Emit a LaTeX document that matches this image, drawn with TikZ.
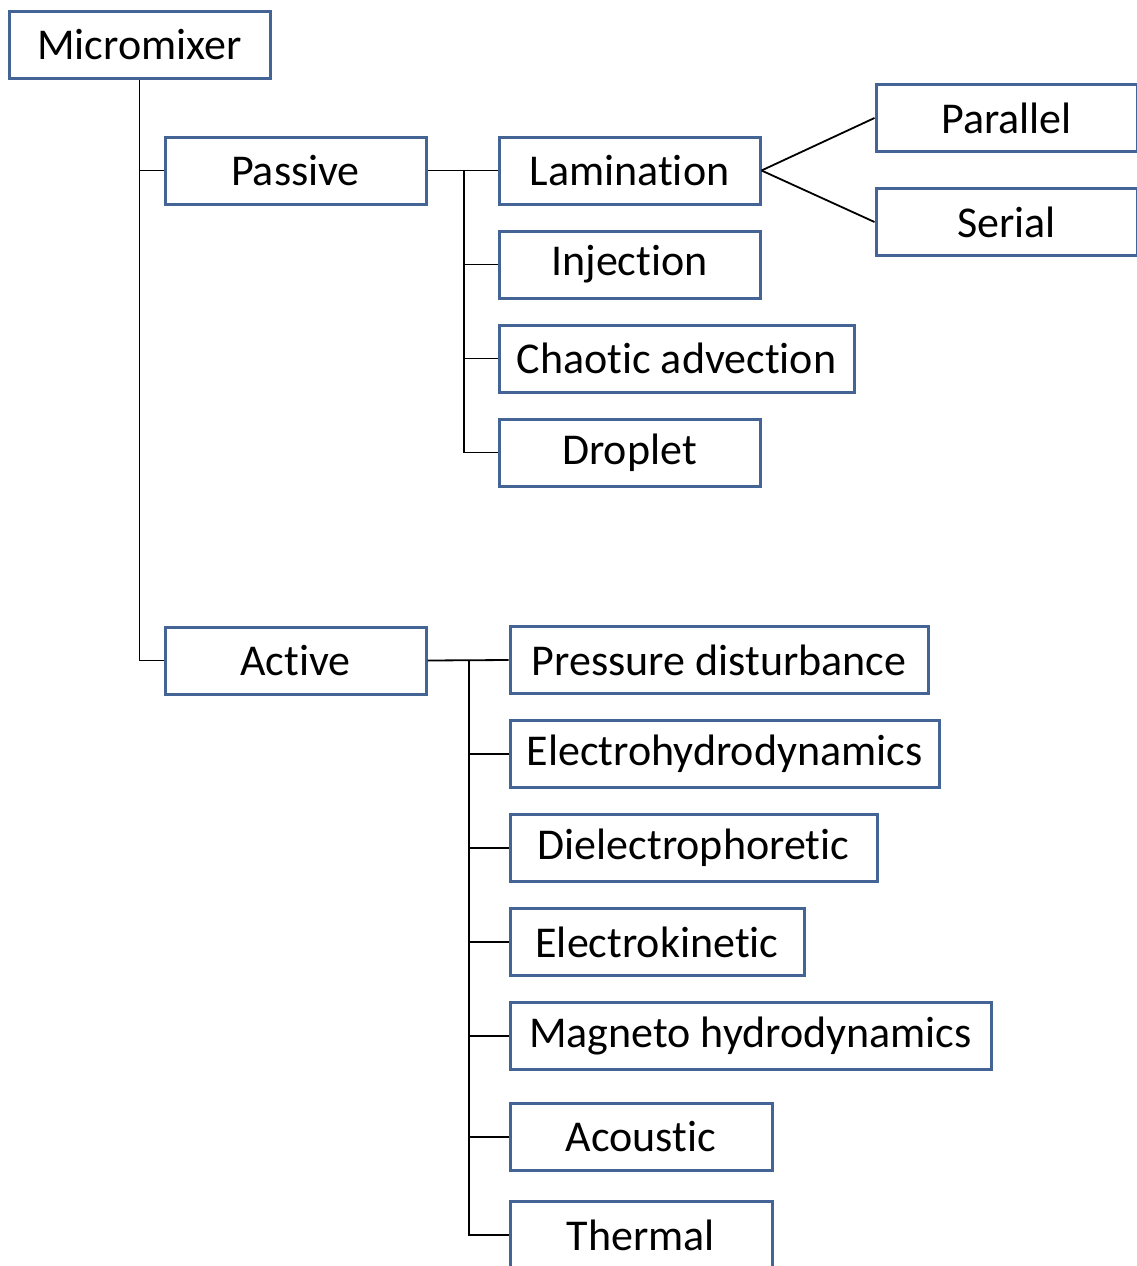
\documentclass[tikz,border=0pt]{standalone}
\usepackage{fontspec}
\setmainfont{Carlito}[Ligatures={NoCommon}]
\definecolor{boxblue}{RGB}{68,100,150}
\begin{document}
\begin{tikzpicture}[x=1pt,y=-1pt,
  box/.style={draw=boxblue,line width=3pt,fill=white,minimum height=67pt,inner sep=0pt,
    font=\fontsize{44}{50}\selectfont,text=black},
  conn/.style={draw=black,line width=1.8pt}]
\useasboundingbox (0,0) rectangle (1137,1266);
\clip (0,0) rectangle (1137,1266);
% nodes
\node[box,minimum width=261pt] (mm)  at (139.5,44.5) {Micromixer};
\node[box,minimum width=261pt] (pas) at (295.5,170.5) {Passive};
\node[box,minimum width=261pt] (act) at (295.5,660.5) {Active};
\node[box,minimum width=261pt] (lam) at (629.5,170.5) {Lamination};
\node[box,minimum width=261pt] (inj) at (629.5,264.5) {Injection};
\node[box,minimum width=355pt] (cha) at (676.5,358.5) {Chaotic advection};
\node[box,minimum width=261pt] (dro) at (629.5,452.5) {Droplet};
\node[box,minimum width=261pt] (par) at (1006.5,118) {Parallel};
\node[box,minimum width=261pt] (ser) at (1006.5,222) {Serial};
\node[box,minimum width=418pt] (pre) at (719,660) {Pressure disturbance};
\node[box,minimum width=429pt] (ehd) at (724.5,754) {Electrohydrodynamics};
\node[box,minimum width=367pt] (die) at (693.5,848) {Dielectrophoretic};
\node[box,minimum width=294pt] (ek)  at (657,942) {Electrokinetic};
\node[box,minimum width=481pt] (mhd) at (750.5,1036) {Magneto hydrodynamics};
\node[box,minimum width=262pt] (aco) at (641,1137) {Acoustic};
\node[box,minimum width=262pt] (the) at (641,1235) {Thermal};
% junctions
\coordinate (pj) at (464,170.5);
\coordinate (aj) at (469,660.5);
% connectors
\path[conn] (mm.south) -- (mm.south |- act.west) -- (act.west);
\path[conn] (mm.south |- pas.west) -- (pas.west);
\path[conn] (pas.east) -- (lam.west);
\path[conn] (pj) |- (inj.west);
\path[conn] (pj) |- (cha.west);
\path[conn] (pj) |- (dro.west);
\path[conn] (lam.east) -- (par.west);
\path[conn] (lam.east) -- (ser.west);
\path[conn] (act.east) -- (pre.west);
\path[conn] (aj) |- (ehd.west);
\path[conn] (aj) |- (die.west);
\path[conn] (aj) |- (ek.west);
\path[conn] (aj) |- (mhd.west);
\path[conn] (aj) |- (aco.west);
\path[conn] (aj) |- (the.west);
\end{tikzpicture}
\end{document}
